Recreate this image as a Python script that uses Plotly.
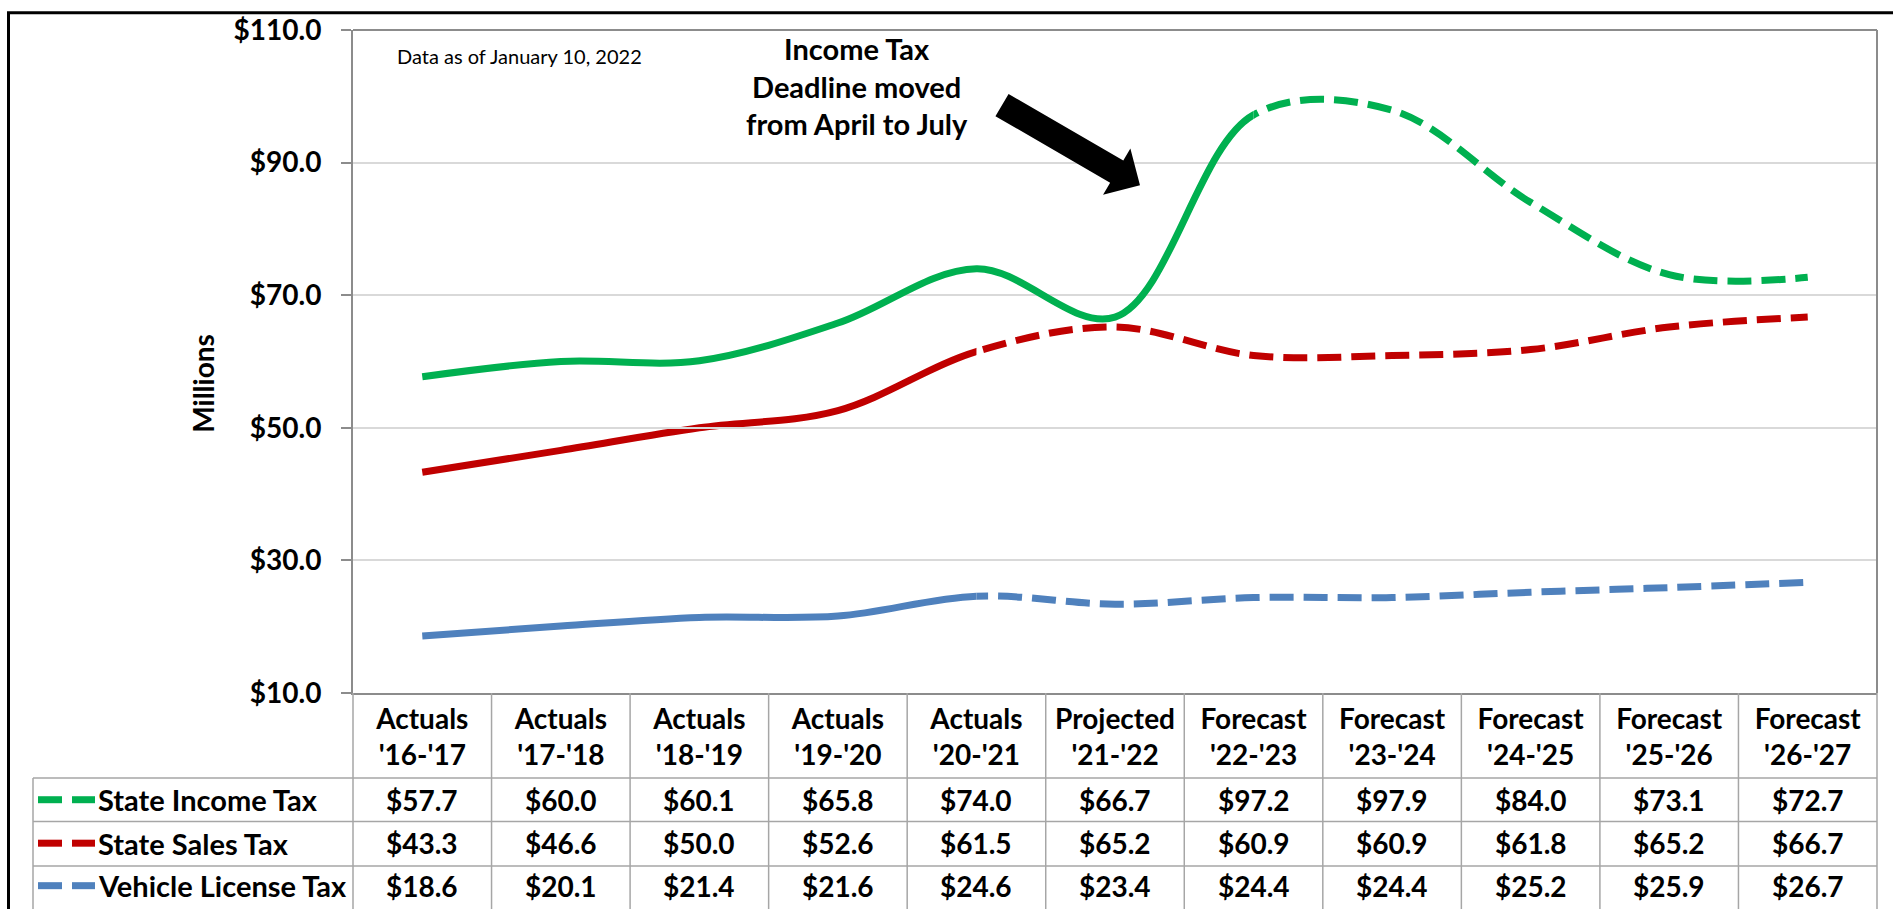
import plotly.graph_objects as go

# fiscal years shown in the chart/table
periods = ["Actuals", "Actuals", "Actuals", "Actuals", "Actuals", "Projected",
           "Forecast", "Forecast", "Forecast", "Forecast", "Forecast"]
years = ["'16-'17", "'17-'18", "'18-'19", "'19-'20", "'20-'21", "'21-'22",
         "'22-'23", "'23-'24", "'24-'25", "'25-'26", "'26-'27"]

# revenue in millions
income_tax = [57.7, 60.0, 60.1, 65.8, 74.0, 66.7, 97.2, 97.9, 84.0, 73.1, 72.7]
sales_tax = [43.3, 46.6, 50.0, 52.6, 61.5, 65.2, 60.9, 60.9, 61.8, 65.2, 66.7]
vehicle_tax = [18.6, 20.1, 21.4, 21.6, 24.6, 23.4, 24.4, 24.4, 25.2, 25.9, 26.7]

series_names = ["State Income Tax", "State Sales Tax", "Vehicle License Tax"]
series_values = [income_tax, sales_tax, vehicle_tax]
series_colors = ["#00B050", "#C00000", "#4F81BD"]
solid_until = [6, 4, 4]  # solid up to this category, dashed after

FONT = "Lato"
W, H = 1893, 909
L, R, T, B = 353, 1877, 22, 693   # plot area in pixels
n = len(years)
x_lo, x_hi = -0.5, n - 0.5


def px(x):
    return (x - L) / (R - L)


def py(y):
    return (B - y) / (B - T)


def xp(i):
    # category position -> paper x, from the axis range
    return (i - x_lo) / (x_hi - x_lo)


fig = go.Figure()

# empty trace so the main (labelled) x axis gets drawn
fig.add_trace(go.Scatter(x=[0], y=[None], mode="lines", showlegend=False, hoverinfo="skip"))

# each line is one smooth curve; it is shown solid left of the split and
# dashed right of it by putting it on two clipped x axes
layout_axes = {}
split_axes = {}
ax_id = 2
for k in sorted(set(solid_until)):
    split_axes[k] = (f"x{ax_id}", f"x{ax_id + 1}")
    layout_axes[f"xaxis{ax_id}"] = dict(domain=[0, xp(k)], range=[x_lo, k],
                                        visible=False, anchor="y")
    layout_axes[f"xaxis{ax_id + 1}"] = dict(domain=[xp(k), 1], range=[k, x_hi],
                                            visible=False, anchor="y")
    ax_id += 2

for name, vals, color, k in zip(series_names, series_values, series_colors, solid_until):
    solid_ax, dash_ax = split_axes[k]
    fig.add_trace(go.Scatter(
        x=list(range(n)), y=vals, mode="lines", name=name, xaxis=solid_ax, yaxis="y",
        line=dict(color=color, width=7, shape="spline"),
        showlegend=False, hoverinfo="skip"))
    fig.add_trace(go.Scatter(
        x=list(range(n)), y=vals, mode="lines", name=name + " (forecast)",
        xaxis=dash_ax, yaxis="y",
        line=dict(color=color, width=7, shape="spline", dash="24px,10px"),
        showlegend=False, hoverinfo="skip"))

shapes = []
annotations = []
grid_c = "#A6A6A6"
axis_c = "#8C8C8C"

# plot border top / right
shapes.append(dict(type="line", xref="paper", yref="paper", x0=0, x1=1, y0=1, y1=1,
                   line=dict(color=axis_c, width=2)))
shapes.append(dict(type="line", xref="paper", yref="paper", x0=1, x1=1, y0=0, y1=1,
                   line=dict(color=axis_c, width=2)))

# table: vertical cell borders at category boundaries
for i in range(n + 1):
    shapes.append(dict(type="line", xref="paper", yref="paper",
                       x0=xp(i - 0.5), x1=xp(i - 0.5), y0=0, y1=py(H + 5),
                       line=dict(color=grid_c, width=1.5)))

row_lines = [779, 823, 868]
row_centers = [801, 845, 888]
legend_left = 33
for y in row_lines:
    shapes.append(dict(type="line", xref="paper", yref="paper",
                       x0=px(legend_left), x1=1, y0=py(y), y1=py(y),
                       line=dict(color=grid_c, width=1.5)))
shapes.append(dict(type="line", xref="paper", yref="paper",
                   x0=px(legend_left), x1=px(legend_left), y0=py(row_lines[0]), y1=py(H + 5),
                   line=dict(color=grid_c, width=1.5)))

# table rows: legend key + values
for name, vals, color, yc in zip(series_names, series_values, series_colors, row_centers):
    for a, b in [(38, 62), (72, 95)]:
        shapes.append(dict(type="line", xref="paper", yref="paper",
                           x0=px(a), x1=px(b), y0=py(yc), y1=py(yc),
                           line=dict(color=color, width=7)))
    annotations.append(dict(text=name, xref="paper", yref="paper", x=px(96), y=py(yc),
                            xanchor="left", yanchor="middle", showarrow=False,
                            font=dict(family=FONT, size=29, color="black", weight="bold")))
    for i, v in enumerate(vals):
        annotations.append(dict(text=f"${v:.1f}", xref="x", yref="paper", x=i, y=py(yc),
                                xanchor="center", yanchor="middle", showarrow=False,
                                font=dict(family=FONT, size=28, color="black", weight="bold")))

# arrow pointing at the income tax jump
tail, tip = (1002, 98), (1140, 179)
dx, dy = tip[0] - tail[0], tip[1] - tail[1]
ln = (dx ** 2 + dy ** 2) ** 0.5
ux, uy = dx / ln, dy / ln
nx, ny = -uy, ux
shaft_w, head_w, head_l = 13, 27, 27
bx, by = tip[0] - ux * head_l, tip[1] - uy * head_l
pts = [
    (tail[0] + nx * shaft_w, tail[1] + ny * shaft_w),
    (bx + nx * shaft_w, by + ny * shaft_w),
    (bx + nx * head_w, by + ny * head_w),
    tip,
    (bx - nx * head_w, by - ny * head_w),
    (bx - nx * shaft_w, by - ny * shaft_w),
    (tail[0] - nx * shaft_w, tail[1] - ny * shaft_w),
]
path = "M " + " L ".join(f"{px(x):.5f},{py(y):.5f}" for x, y in pts) + " Z"
shapes.append(dict(type="path", xref="paper", yref="paper", path=path,
                   fillcolor="black", line=dict(color="black", width=0)))

# outer frame
shapes.append(dict(type="rect", xref="paper", yref="paper",
                   x0=px(8.5), x1=px(W + 20), y0=py(H + 20), y1=py(4.5),
                   line=dict(color="black", width=3)))

annotations.append(dict(text="Income Tax<br>Deadline moved<br>from April to July",
                        xref="paper", yref="paper", x=px(857), y=py(79),
                        xanchor="center", yanchor="middle", showarrow=False,
                        font=dict(family=FONT, size=29, color="black", weight="bold")))
annotations.append(dict(text="Data as of January 10, 2022", xref="paper", yref="paper",
                        x=px(395), y=py(48), xanchor="left", yanchor="middle", showarrow=False,
                        font=dict(family=FONT, size=20, color="black")))
annotations.append(dict(text="Millions", xref="paper", yref="paper", x=px(203), y=py(380),
                        xanchor="center", yanchor="middle", textangle=-90, showarrow=False,
                        font=dict(family=FONT, size=28, color="black", weight="bold")))

fig.update_layout(
    width=W, height=H,
    margin=dict(l=L, r=W - R, t=T, b=H - B),
    paper_bgcolor="white", plot_bgcolor="rgba(0,0,0,0)",
    shapes=shapes, annotations=annotations,
    xaxis=dict(range=[x_lo, x_hi], tickmode="array", tickvals=list(range(n)),
               ticktext=[f"{p}<br>{y}" for p, y in zip(periods, years)],
               showgrid=False, zeroline=False, showline=True,
               linecolor=axis_c, linewidth=2, ticks="", ticklabelstandoff=0,
               tickfont=dict(family=FONT, size=28, color="black", weight="bold")),
    yaxis=dict(range=[10, 110], tick0=10, dtick=20, tickprefix="$", tickformat=".1f",
               anchor="x", showgrid=True, gridcolor="#D9D9D9", gridwidth=1.5, zeroline=False,
               showline=True, linecolor=axis_c, linewidth=2,
               ticks="outside", ticklen=10, tickwidth=2, tickcolor=axis_c,
               ticklabelstandoff=14,
               tickfont=dict(family=FONT, size=28, color="black", weight="bold")),
    **layout_axes,
)

# the page body has a default 8px margin; drop it so the figure sits at 0,0
fig.write_html("out.html", config={"displayModeBar": False},
               post_script="document.body.style.margin = '0px';")
